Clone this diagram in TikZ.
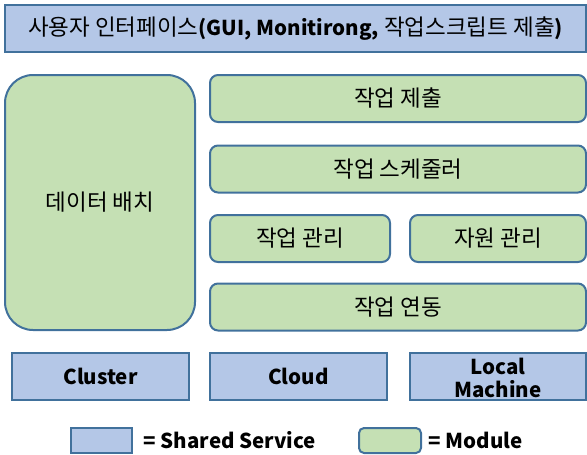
\documentclass[tikz,border=0pt]{standalone}
\usepackage{fontspec}
\setmainfont{Noto Sans CJK KR}
\usepackage{xcolor}
\definecolor{svcblue}{HTML}{B4C7E7}
\definecolor{modgreen}{HTML}{C5E0B4}
\definecolor{edgeblue}{HTML}{41719C}

\newcommand{\krsize}{\fontsize{22.5}{26}\selectfont}
\newcommand{\ensize}{\fontsize{20.5}{23}\selectfont\bfseries}

\tikzset{
  service/.style={draw=edgeblue, line width=2pt, fill=svcblue, inner sep=0pt,
    minimum height=47pt, align=center, font=\ensize},
  module/.style={draw=edgeblue, line width=2pt, fill=modgreen, inner sep=0pt,
    rounded corners=8pt, minimum height=47pt, font=\krsize},
}

\begin{document}
\begin{tikzpicture}[x=1pt, y=-1pt]
  \useasboundingbox (0,0) rectangle (587,455);

  % User interface bar
  \node[service, minimum width=581pt, font=\krsize] (ui) at (295.5,28.5)
    {사용자 인터페이스{\ensize(GUI, Monitirong,} 작업스크립트 제출{\ensize)}};

  % Modules
  \node[module, rounded corners=28pt, minimum width=190pt, minimum height=255pt] (data) at (100,202.5) {데이터 배치};
  \node[module, minimum width=376pt] (submit) at (398,98.5) {작업 제출};
  \node[module, minimum width=376pt] (sched) at (398,169) {작업 스케줄러};
  \node[module, minimum width=180pt] (jobmgmt) at (300,238.5) {작업 관리};
  \node[module, minimum width=176pt] (resmgmt) at (498,238.5) {자원 관리};
  \node[module, minimum width=376pt] (link) at (398,307) {작업 연동};

  % Shared services
  \node[service, minimum width=177pt] (cluster) at (100.5,376.5) {Cluster};
  \node[service, minimum width=177pt] (cloud) at (298.5,376.5) {Cloud};
  \node[service, minimum width=176pt] (local) at (498,376.5) {};
  \node[font=\ensize, align=center] (localtext) at (498,377.5) {Local\\Machine};

  % Legend
  \node[service, minimum width=61pt, minimum height=25pt] (keysvc) at (101.5,440.5) {};
  \node[anchor=west, font=\ensize] (keysvctext) at (140,440.5) {= Shared Service};
  \node[module, rounded corners=5pt, minimum width=62pt, minimum height=25pt] (keymod) at (390,440.5) {};
  \node[anchor=west, font=\ensize] (keymodtext) at (425,440.5) {= Module};
\end{tikzpicture}
\end{document}
